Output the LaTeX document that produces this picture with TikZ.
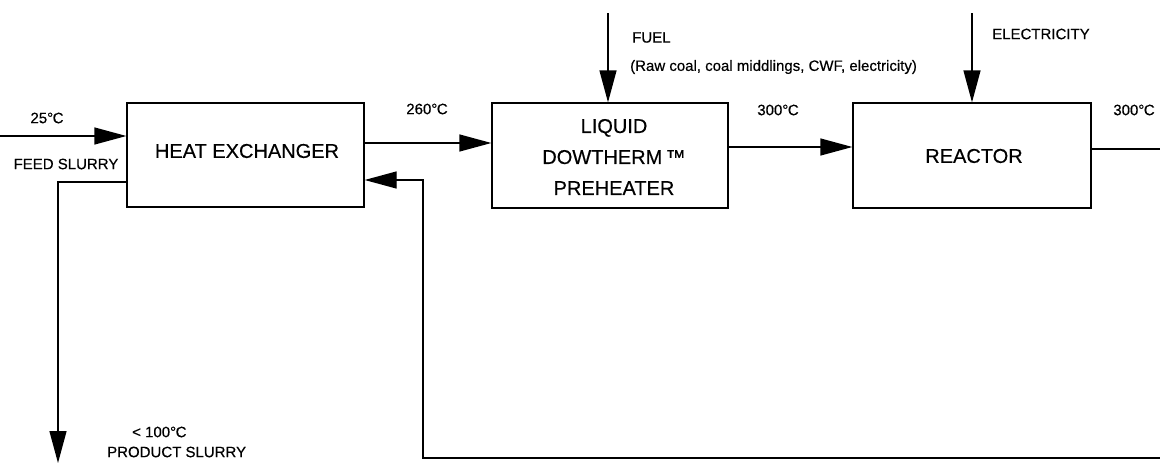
\documentclass[tikz,border=0pt]{standalone}
\usepackage{fontspec}
\setmainfont{Liberation Sans}[FakeBold=0.4]
\usetikzlibrary{arrows.meta}
\begin{document}
\begin{tikzpicture}[x=1pt,y=-1pt,
  box/.style={draw,line width=1.3pt,inner sep=0pt},
  boxtext/.style={font=\fontsize{20}{31}\selectfont,align=center},
  lbl/.style={font=\fontsize{15}{18}\selectfont,inner sep=0pt},
  flow/.style={line width=1.3pt},
  arr/.style={flow,-{Triangle[length=32pt,width=17pt]}}]
\useasboundingbox (0,0) rectangle (1160,463);
% boxes
\node[box,minimum width=237pt,minimum height=104pt] (hx) at (245.5,155) {};
\node[boxtext] (hxt) at (247,151) {HEAT EXCHANGER};
\node[box,minimum width=236pt,minimum height=105pt] (pre) at (610,155.5) {};
\node[boxtext] (pret) at (614,157) {LIQUID\\DOWTHERM\,™\\PREHEATER};
\node[box,minimum width=238pt,minimum height=105pt] (rea) at (972,155.5) {};
\node[boxtext] (reat) at (974,156) {REACTOR};
% coordinates
\coordinate (feedsrc) at (0,136);
\coordinate (h1) at (0,143);
\coordinate (p1) at (0,147);
\coordinate (r1) at (0,149);
\coordinate (retin) at (0,180);
\coordinate (prodout) at (0,182);
\coordinate (prodturn) at (58,182);
\coordinate (prodend) at (58,463);
\coordinate (retup) at (423,180);
\coordinate (retdown) at (423,458);
\coordinate (retend) at (1160,458);
\coordinate (rout) at (1160,149);
\coordinate (fuelsrc) at (608,13);
\coordinate (elecsrc) at (972,13);
% connectors
\draw[arr] (feedsrc) -- (feedsrc -| hx.west);
\draw[arr] (h1 -| hx.east) -- (h1 -| pre.west);
\draw[arr] (p1 -| pre.east) -- (p1 -| rea.west);
\draw[flow] (r1 -| rea.east) -- (rout);
\draw[arr] (fuelsrc) -- (fuelsrc |- pre.north);
\draw[arr] (elecsrc) -- (elecsrc |- rea.north);
\draw[arr] (retend) -- (retdown) -- (retup) -- (retin -| hx.east);
\draw[arr] (prodout -| hx.west) -- (prodturn) -- (prodend);
% labels
\node[lbl] (l25) at (47,118) {25°\kern-0.5ptC};
\node[lbl] (lfeed) at (66,164) {FEED SLURRY};
\node[lbl] (l260) at (427,109) {260°\kern-0.5ptC};
\node[lbl] (l300a) at (778,110) {300°\kern-0.5ptC};
\node[lbl] (l300b) at (1134,110) {300°\kern-0.5ptC};
\node[lbl,anchor=west] (lfuel) at (632,37.5) {FUEL};
\node[lbl,anchor=west] (lraw) at (630,67) {(Raw coal, coal middlings, CWF, electricity)};
\node[lbl,anchor=west] (lelec) at (992,34) {ELECTRICITY};
\node[lbl,anchor=west] (l100) at (132,432) {< 100°\kern-0.5ptC};
\node[lbl,anchor=west] (lprod) at (107,452) {PRODUCT SLURRY};
\end{tikzpicture}
\end{document}
